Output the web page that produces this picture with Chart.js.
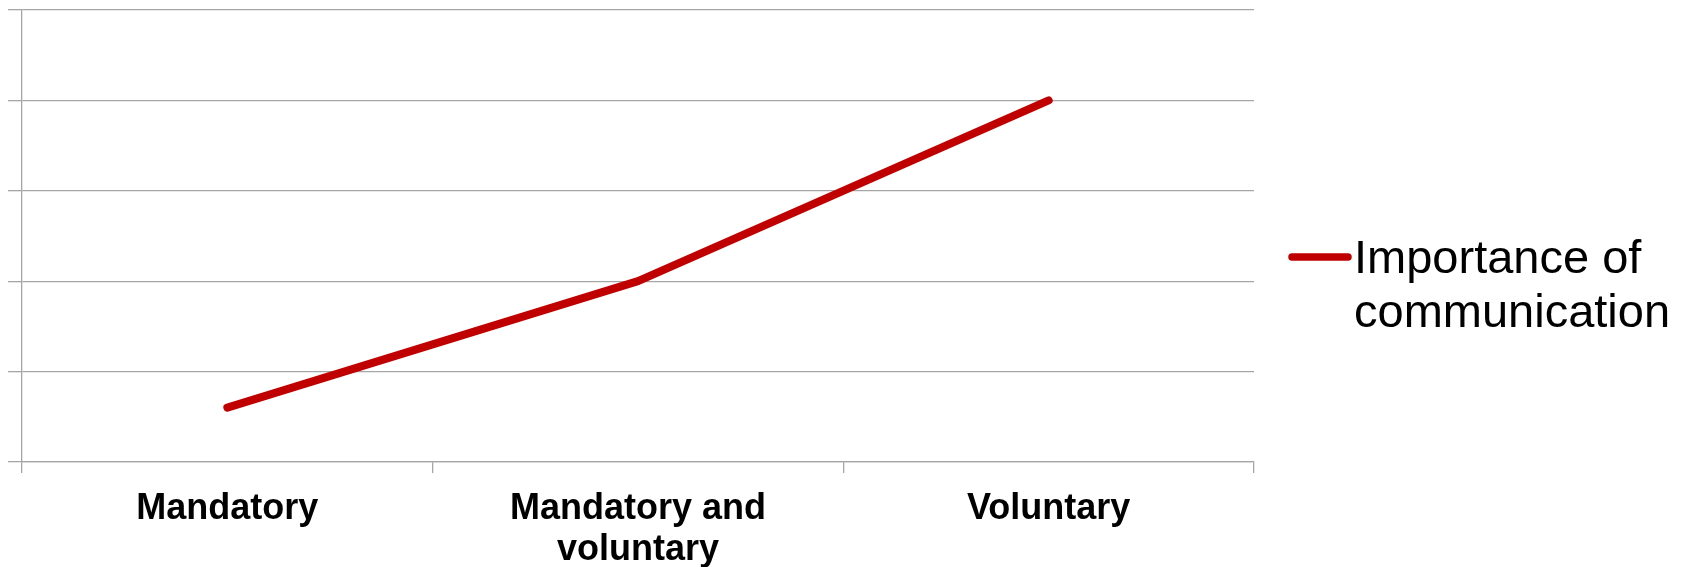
<!DOCTYPE html>
<html>
<head>
<meta charset="utf-8">
<script src="https://cdn.jsdelivr.net/npm/chart.js@4/dist/chart.umd.min.js"></script>
<style>
  html, body { margin: 0; background: #fff; overflow: hidden; }
  #wrap { width: 1686px; height: 567px; overflow: hidden; }
  canvas { display: block; }
</style>
</head>
<body>
<!-- canvas is a bit taller than the window: "voluntary" is cut at the bottom edge in the original -->
<div id="wrap"><canvas id="chart" width="1686" height="587"></canvas></div>
<script>
const categories = [['Mandatory'], ['Mandatory and', 'voluntary'], ['Voluntary']];
const seriesName = ['Importance of', 'communication'];
const importance = [0.6, 2.0, 4.0];
const yTicks = [0, 1, 2, 3, 4, 5];

const lineColor = '#C00000';
const gridColor = '#A6A6A6';

// legend on the right, text wraps onto two lines like the original
const sideLegend = {
  id: 'sideLegend',
  afterDraw(chart) {
    const ctx = chart.ctx;
    const area = chart.chartArea;
    const ds = chart.data.datasets[0];
    const x0 = area.right + 38;
    const y0 = area.top + 247;
    ctx.save();
    ctx.strokeStyle = ds.borderColor;
    ctx.lineWidth = 7.5;
    ctx.lineCap = 'round';
    ctx.beginPath();
    ctx.moveTo(x0, y0);
    ctx.lineTo(x0 + 56, y0);
    ctx.stroke();
    ctx.fillStyle = '#000';
    ctx.font = '47px "Liberation Sans", Arial, sans-serif';
    ctx.textBaseline = 'alphabetic';
    seriesName.forEach((t, i) => {
      ctx.fillText(t, x0 + 62, y0 + 16 + i * 54);
    });
    ctx.restore();
  }
};

const ctx = document.getElementById('chart').getContext('2d');
new Chart(ctx, {
  type: 'line',
  data: {
    labels: categories,
    datasets: [{
      label: seriesName.join(' '),
      data: importance,
      borderColor: lineColor,
      backgroundColor: lineColor,
      borderWidth: 8,
      borderCapStyle: 'round',
      borderJoinStyle: 'round',
      pointRadius: 0,
      tension: 0
    }]
  },
  options: {
    responsive: false,
    animation: false,
    layout: { padding: { left: 8, top: 10, right: 432, bottom: 0 } },
    plugins: {
      legend: { display: false },
      tooltip: { enabled: false }
    },
    scales: {
      x: {
        offset: true,
        grid: {
          offset: true,
          drawOnChartArea: false,
          drawTicks: true,
          tickLength: 11,
          color: gridColor,
          lineWidth: 1.3
        },
        border: { color: gridColor, width: 1.3 },
        ticks: {
          color: '#000',
          padding: 16,
          maxRotation: 0,
          autoSkip: false,
          font: { family: '"Liberation Sans", Arial, sans-serif', size: 36, weight: 'bold', lineHeight: 1.14 }
        }
      },
      y: {
        min: yTicks[0],
        max: yTicks[yTicks.length - 1],
        afterBuildTicks(scale) {
          scale.ticks = yTicks.map(v => ({ value: v }));
        },
        grid: {
          color: gridColor,
          lineWidth: 1.3,
          drawTicks: true,
          tickLength: 14
        },
        border: { color: gridColor, width: 1.3 },
        ticks: { display: false }
      }
    }
  },
  plugins: [sideLegend]
});
</script>
</body>
</html>
